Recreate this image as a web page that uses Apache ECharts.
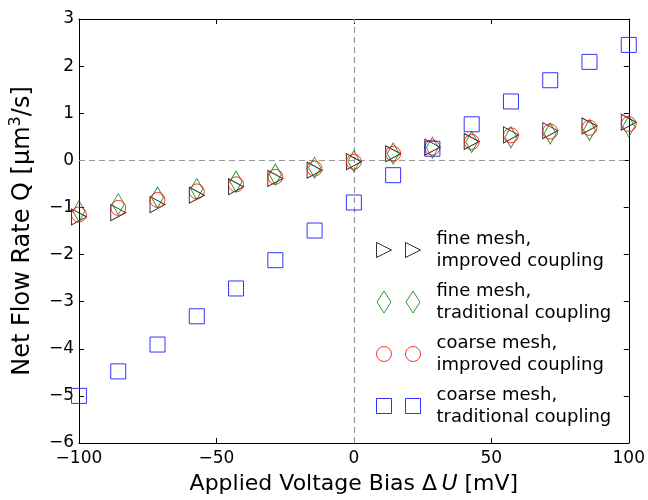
<!DOCTYPE html>
<html>
<head>
<meta charset="utf-8">
<script src="https://cdn.jsdelivr.net/npm/echarts@6/dist/echarts.min.js"></script>
<style>html,body{margin:0;padding:0;background:#fff}#c{width:648px;height:500px}</style>
</head>
<body>
<div id="c"></div>
<script>
const voltage = [-100, -85.71, -71.43, -57.14, -42.86, -28.57, -14.29, 0, 14.29, 28.57, 42.86, 57.14, 71.43, 85.71, 100];
const fineImproved = [-1.20, -1.11, -0.94, -0.74, -0.56, -0.385, -0.21, -0.03, 0.14, 0.28, 0.40, 0.54, 0.63, 0.73, 0.81];
const fineTraditional = [-1.08, -0.93, -0.79, -0.61, -0.45, -0.30, -0.155, -0.02, 0.145, 0.27, 0.39, 0.49, 0.57, 0.645, 0.72];
const coarseImproved = [-1.15, -1.01, -0.84, -0.66, -0.51, -0.35, -0.175, -0.03, 0.14, 0.27, 0.39, 0.53, 0.61, 0.69, 0.77];
const coarseTraditional = [-5.0, -4.48, -3.91, -3.31, -2.72, -2.12, -1.49, -0.895, -0.315, 0.246, 0.765, 1.25, 1.70, 2.09, 2.45];
const seriesNames = ['fine mesh,\nimproved coupling', 'fine mesh,\ntraditional coupling', 'coarse mesh,\nimproved coupling', 'coarse mesh,\ntraditional coupling'];
const xTicks = [-100, -50, 0, 50, 100];
const yTicks = [-6, -5, -4, -3, -2, -1, 0, 1, 2, 3];

const FONT = 'DejaVu Sans';
const pair = (a) => a.map((v, i) => [voltage[i], v]);
const minus = (v) => String(v).replace('-', '\u2212');

const colors = ['#000000', '#008000', '#ff0000', '#0000ff'];
const symbols = ['path://M0,0L15,7.5L0,15Z', 'diamond', 'circle', 'rect'];
const sizes = [[15, 16], [12, 21], 15, 15];
const legendIcons = [
  'path://M0,0L15,7.5L0,15Z M29,0L44,7.5L29,15Z',
  'path://M7,0L14,11L7,22L0,11Z M36,0L43,11L36,22L29,11Z',
  'path://M0,7.5A7.5,7.5 0 1 1 15,7.5A7.5,7.5 0 1 1 0,7.5Z M29,7.5A7.5,7.5 0 1 1 44,7.5A7.5,7.5 0 1 1 29,7.5Z',
  'path://M0,0H15V15H0Z M29,0H44V15H29Z'
];
const dataSets = [fineImproved, fineTraditional, coarseImproved, coarseTraditional];

const axisCommon = {
  axisLine: { show: true, onZero: false, lineStyle: { color: '#000', width: 1 } },
  axisTick: { show: true, inside: true, length: 5, lineStyle: { color: '#000', width: 1 } },
  splitLine: { show: false }
};

const series = dataSets.map((d, i) => ({
  name: seriesNames[i],
  type: 'scatter',
  data: pair(d),
  symbol: symbols[i],
  symbolSize: sizes[i],
  itemStyle: { color: 'transparent', borderColor: colors[i], borderWidth: 1 },
  emphasis: { disabled: true },
  silent: true,
  z: 3 + i
}));
series[0].markLine = {
  silent: true,
  symbol: 'none',
  label: { show: false },
  lineStyle: { color: '#999999', type: [6, 4], width: 1.2 },
  data: [{ xAxis: 0 }, { yAxis: 0 }],
  z: 1
};

const option = {
  animation: false,
  backgroundColor: '#fff',
  grid: { left: 77, right: 19, top: 19, bottom: 54, containLabel: false },
  xAxis: [
    Object.assign({}, axisCommon, {
      type: 'value', min: -100, max: 100, interval: 50, position: 'bottom',
      axisLabel: { fontFamily: FONT, fontSize: 17, color: '#000', margin: 7, formatter: minus },
      name: 'Applied Voltage Bias \u0394\u2009{i|U} [mV]',
      nameLocation: 'middle', nameGap: 30,
      nameTextStyle: { fontFamily: FONT, fontSize: 22, color: '#000',
        rich: { i: { fontFamily: FONT, fontSize: 22, fontStyle: 'italic', color: '#000' } } }
    }),
    Object.assign({}, axisCommon, {
      type: 'value', min: -100, max: 100, interval: 50, position: 'top',
      axisLabel: { show: false }
    })
  ],
  yAxis: [
    Object.assign({}, axisCommon, {
      type: 'value', min: -6, max: 3, interval: 1, position: 'left',
      axisLabel: { fontFamily: FONT, fontSize: 17, color: '#000', margin: 5, formatter: minus },
      name: 'Net Flow Rate Q [\u03bcm{sup|3}/s]',
      nameLocation: 'middle', nameGap: 38,
      nameTextStyle: { fontFamily: FONT, fontSize: 24, color: '#000', lineHeight: 30,
        rich: {
          n: { fontFamily: FONT, fontSize: 24, color: '#000' },
          sup: { fontFamily: FONT, fontSize: 16, color: '#000', verticalAlign: 'top', lineHeight: 18 }
        } }
    }),
    Object.assign({}, axisCommon, {
      type: 'value', min: -6, max: 3, interval: 1, position: 'right',
      axisLabel: { show: false }
    })
  ],
  legend: {
    orient: 'vertical', left: 376, top: 228, padding: 0,
    itemWidth: 44, itemHeight: 22, itemGap: 8,
    selectedMode: false,
    textStyle: { fontFamily: FONT, fontSize: 18, color: '#000', lineHeight: 22, padding: [0, 0, 0, 11] },
    data: seriesNames.map((n, i) => ({
      name: n, icon: legendIcons[i],
      itemStyle: { color: 'transparent', borderColor: colors[i], borderWidth: 1 }
    }))
  },
  series: series
};

echarts.init(document.getElementById('c'), null, { renderer: 'canvas' }).setOption(option);
</script>
</body>
</html>
